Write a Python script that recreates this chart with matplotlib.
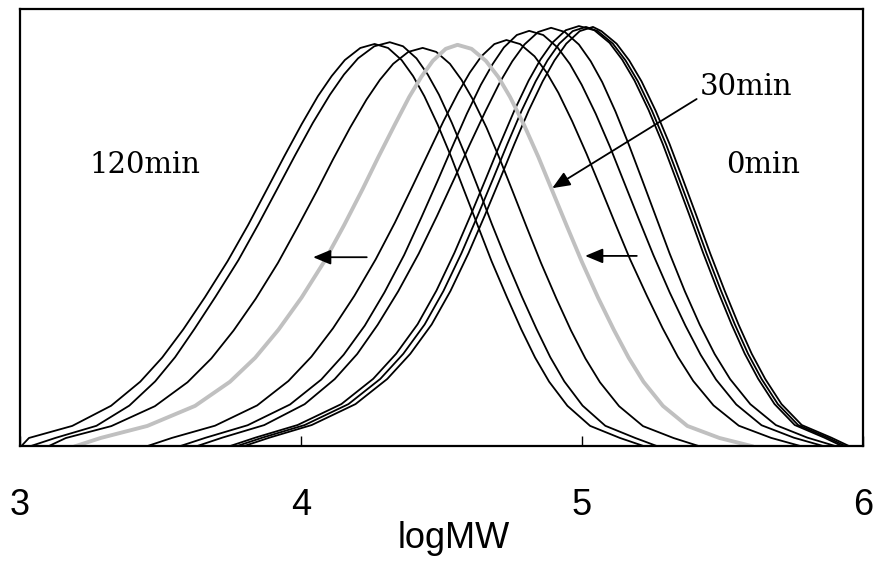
import matplotlib
matplotlib.use("Agg")
import matplotlib.pyplot as plt

# Relative heights (fraction of each curve's own peak) at which flank positions were read,
# from just below the peak down to the baseline.
FRACTIONS = [0.99, 0.96, 0.92, 0.87, 0.80, 0.72, 0.64, 0.55, 0.46, 0.37, 0.29, 0.22, 0.16, 0.10, 0.05, 0.02, 0.0]

# Each curve: peak logMW, peak height (% of axis), left-flank logMW and right-flank logMW at FRACTIONS
A_peak = (4.262, 92.0)
A_left = [4.211, 4.156, 4.109, 4.060, 4.002, 3.940, 3.880, 3.812, 3.739, 3.658, 3.581, 3.506, 3.428, 3.324, 3.186, 3.032, 3.005]
A_right = [4.310, 4.358, 4.399, 4.439, 4.486, 4.534, 4.578, 4.628, 4.678, 4.733, 4.784, 4.833, 4.883, 4.948, 5.029, 5.135, 5.219]

B_peak = (4.316, 92.4)
B_left = [4.261, 4.203, 4.153, 4.103, 4.042, 3.979, 3.918, 3.849, 3.777, 3.696, 3.621, 3.552, 3.481, 3.389, 3.272, 3.126, 3.039]
B_right = [4.363, 4.411, 4.451, 4.491, 4.537, 4.585, 4.630, 4.679, 4.731, 4.786, 4.838, 4.887, 4.937, 5.002, 5.083, 5.189, 5.266]

C_peak = (4.433, 91.1)
C_left = [4.382, 4.328, 4.281, 4.233, 4.175, 4.114, 4.056, 3.988, 3.918, 3.839, 3.760, 3.681, 3.596, 3.480, 3.325, 3.163, 3.103]
C_right = [4.481, 4.530, 4.571, 4.612, 4.660, 4.708, 4.753, 4.803, 4.854, 4.909, 4.961, 5.012, 5.064, 5.132, 5.217, 5.326, 5.415]

GRAY_peak = (4.557, 91.8)
GRAY_left = [4.515, 4.469, 4.428, 4.385, 4.333, 4.275, 4.219, 4.153, 4.083, 4.002, 3.920, 3.837, 3.747, 3.623, 3.453, 3.287, 3.199]
GRAY_right = [4.607, 4.658, 4.702, 4.744, 4.794, 4.845, 4.892, 4.945, 4.999, 5.057, 5.113, 5.166, 5.219, 5.288, 5.375, 5.489, 5.603]

D_peak = (4.731, 92.9)
D_left = [4.688, 4.642, 4.601, 4.559, 4.507, 4.452, 4.397, 4.334, 4.266, 4.190, 4.114, 4.037, 3.955, 3.844, 3.694, 3.541, 3.454]
D_right = [4.780, 4.831, 4.874, 4.916, 4.965, 5.016, 5.064, 5.117, 5.171, 5.231, 5.287, 5.341, 5.396, 5.468, 5.558, 5.673, 5.777]

E_peak = (4.812, 95.0)
E_left = [4.768, 4.722, 4.682, 4.640, 4.590, 4.538, 4.487, 4.428, 4.367, 4.297, 4.227, 4.152, 4.072, 3.961, 3.810, 3.661, 3.571]
E_right = [4.862, 4.913, 4.957, 4.999, 5.049, 5.100, 5.147, 5.200, 5.254, 5.312, 5.368, 5.422, 5.477, 5.549, 5.639, 5.754, 5.858]

F_peak = (4.890, 95.7)
F_left = [4.844, 4.795, 4.752, 4.708, 4.656, 4.600, 4.546, 4.484, 4.419, 4.346, 4.273, 4.200, 4.120, 4.013, 3.869, 3.720, 3.631]
F_right = [4.939, 4.989, 5.031, 5.072, 5.119, 5.167, 5.212, 5.262, 5.312, 5.366, 5.419, 5.472, 5.527, 5.599, 5.690, 5.802, 5.901]

G_peak = (4.989, 96.1)
G_left = [4.942, 4.894, 4.852, 4.810, 4.760, 4.709, 4.660, 4.604, 4.546, 4.482, 4.415, 4.339, 4.257, 4.144, 3.988, 3.838, 3.748]
G_right = [5.044, 5.098, 5.143, 5.187, 5.237, 5.287, 5.332, 5.382, 5.431, 5.483, 5.532, 5.579, 5.627, 5.685, 5.757, 5.862, 5.925]

H_peak = (5.014, 95.9)
H_left = [4.967, 4.919, 4.877, 4.835, 4.785, 4.734, 4.685, 4.629, 4.571, 4.507, 4.440, 4.364, 4.282, 4.169, 4.013, 3.863, 3.773]
H_right = [5.056, 5.110, 5.155, 5.199, 5.249, 5.299, 5.344, 5.394, 5.443, 5.495, 5.544, 5.591, 5.639, 5.697, 5.769, 5.874, 5.937]

I_peak = (5.039, 95.9)
I_left = [4.992, 4.944, 4.902, 4.860, 4.810, 4.759, 4.710, 4.654, 4.596, 4.532, 4.465, 4.389, 4.307, 4.194, 4.038, 3.888, 3.798]
I_right = [5.069, 5.123, 5.168, 5.212, 5.262, 5.312, 5.357, 5.407, 5.456, 5.508, 5.557, 5.604, 5.652, 5.710, 5.782, 5.887, 5.950]

BLACK_CURVES = [(A_peak, A_left, A_right), (B_peak, B_left, B_right), (C_peak, C_left, C_right),
                (D_peak, D_left, D_right), (E_peak, E_left, E_right), (F_peak, F_left, F_right),
                (G_peak, G_left, G_right), (H_peak, H_left, H_right), (I_peak, I_left, I_right)]
GRAY_CURVE = (GRAY_peak, GRAY_left, GRAY_right)

XTICKS = [3, 4, 5, 6]
XTICK_LABELS = ["3", "4", "5", "6"]
XLABEL = "logMW"


def curve_xy(peak, left, right):
    px, ph = peak
    xs = list(left)[::-1] + [px] + list(right)
    ys = [f * ph for f in FRACTIONS[::-1]] + [ph] + [f * ph for f in FRACTIONS]
    return xs, ys


fig = plt.figure(figsize=(8.76, 5.65), dpi=100)
ax = fig.add_axes([20 / 876, 1 - 446 / 565, 843 / 876, 437 / 565])

for peak, left, right in BLACK_CURVES:
    xs, ys = curve_xy(peak, left, right)
    ax.plot(xs, ys, color="black", lw=1.3, solid_joinstyle="round")
xs, ys = curve_xy(*GRAY_CURVE)
ax.plot(xs, ys, color="#c0c0c0", lw=2.8, solid_joinstyle="round")

ax.set_xlim(3, 6)
ax.set_ylim(0, 100)
ax.set_yticks([])
ax.set_xticks(XTICKS)
ax.set_xticklabels(XTICK_LABELS, fontfamily="Liberation Sans")
ax.tick_params(axis="x", direction="in", length=7, width=1, pad=30, labelsize=26)
for s in ax.spines.values():
    s.set_linewidth(1.6)
    s.set_color("black")

ax.set_xlabel(XLABEL, fontsize=26, fontfamily="Liberation Sans")
ax.xaxis.set_label_coords(0.514, -0.172)

serif = "DejaVu Serif"
ax.text(3.443, 62.5, "120min", ha="center", va="baseline", fontsize=21, fontfamily=serif)
ax.text(5.645, 62.5, "0min", ha="center", va="baseline", fontsize=21, fontfamily=serif)
ax.text(5.583, 80.3, "30min", ha="center", va="baseline", fontsize=21, fontfamily=serif)

arrow = dict(arrowstyle="-|>,head_length=0.6,head_width=0.25", mutation_scale=18,
             color="black", lw=1.3, shrinkA=0, shrinkB=0)
ax.annotate("", xy=(4.894, 59.0), xytext=(5.408, 79.4), arrowprops=arrow)
ax.annotate("", xy=(4.043, 43.2), xytext=(4.234, 43.2), arrowprops=arrow)
ax.annotate("", xy=(5.011, 43.5), xytext=(5.195, 43.5), arrowprops=arrow)

fig.savefig("out.png", dpi=100)
